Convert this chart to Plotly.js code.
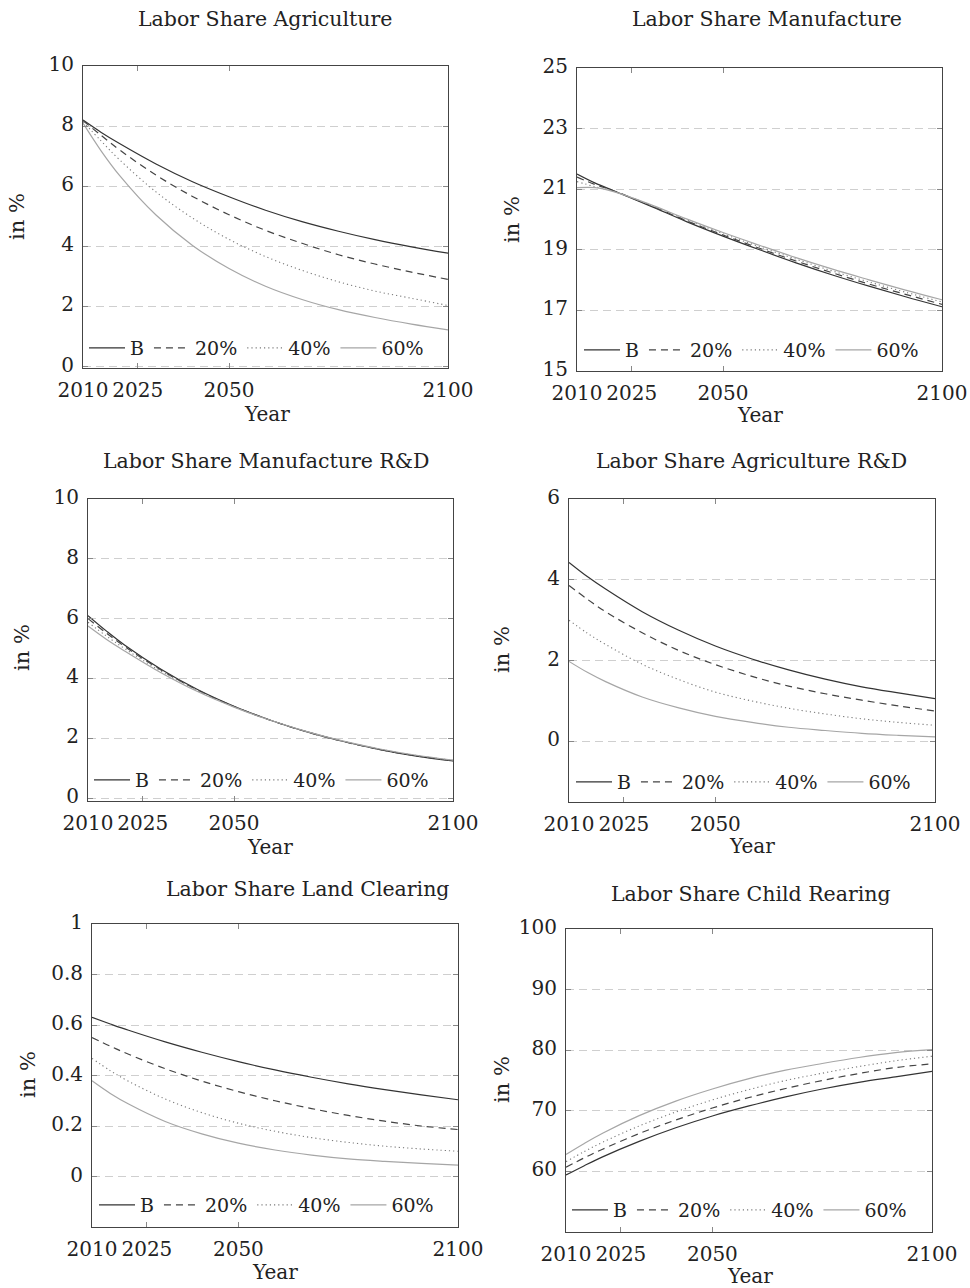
<!DOCTYPE html>
<html>
<head>
<meta charset="utf-8">
<script src="https://cdn.plot.ly/plotly-3.0.1.min.js"></script>
<style>html,body{margin:0;padding:0;background:#fff;}#chart{width:970px;height:1288px;}</style>
</head>
<body>
<div id="chart"></div>
<script>
// ---------- data ----------
const periods = [0, 5, 10, 20, 30, 40, 50, 60, 70, 80, 90, 100];
const yearTickVals = [0, 15, 40, 100];
const yearTickText = ['2010', '2025', '2050', '2100'];
const seriesNames = ['B', '20%', '40%', '60%'];

const panelTitles = ['Labor Share Agriculture', 'Labor Share Manufacture',
  'Labor Share Manufacture R&D', 'Labor Share Agriculture R&D',
  'Labor Share Land Clearing', 'Labor Share Child Rearing'];

// Labor Share Agriculture
const agriB   = [8.2, 7.79, 7.42, 6.74, 6.15, 5.65, 5.2, 4.82, 4.5, 4.22, 3.98, 3.77];
const agri20  = [8.18, 7.69, 7.21, 6.37, 5.66, 5.05, 4.53, 4.1, 3.72, 3.41, 3.14, 2.9];
const agri40  = [8.15, 7.5, 6.88, 5.81, 4.94, 4.23, 3.66, 3.2, 2.82, 2.51, 2.27, 2.03];
const agri60  = [8.1, 7.17, 6.36, 5.04, 4.03, 3.26, 2.67, 2.23, 1.89, 1.63, 1.41, 1.22];
// Labor Share Manufacture
const manuB   = [21.5, 21.2, 20.95, 20.45, 19.93, 19.45, 19.0, 18.57, 18.17, 17.8, 17.45, 17.12];
const manu20  = [21.4, 21.15, 20.95, 20.47, 19.96, 19.49, 19.05, 18.63, 18.24, 17.87, 17.53, 17.2];
const manu40  = [21.25, 21.08, 20.93, 20.48, 19.99, 19.53, 19.1, 18.69, 18.3, 17.94, 17.6, 17.28];
const manu60  = [21.05, 21.05, 20.92, 20.5, 20.02, 19.57, 19.15, 18.74, 18.36, 18.01, 17.67, 17.35];
// Labor Share Manufacture R&D
const manuRdB  = [6.1, 5.59, 5.12, 4.31, 3.63, 3.07, 2.6, 2.21, 1.89, 1.62, 1.4, 1.24];
const manuRd20 = [6.0, 5.52, 5.07, 4.28, 3.61, 3.06, 2.6, 2.21, 1.89, 1.62, 1.41, 1.25];
const manuRd40 = [5.88, 5.42, 5.0, 4.24, 3.59, 3.05, 2.6, 2.22, 1.9, 1.63, 1.42, 1.26];
const manuRd60 = [5.75, 5.31, 4.92, 4.19, 3.56, 3.04, 2.6, 2.22, 1.9, 1.64, 1.43, 1.27];
// Labor Share Agriculture R&D
const agriRdB  = [4.43, 4.08, 3.77, 3.21, 2.75, 2.36, 2.04, 1.77, 1.54, 1.35, 1.2, 1.06];
const agriRd20 = [3.86, 3.52, 3.21, 2.69, 2.25, 1.9, 1.61, 1.37, 1.18, 1.02, 0.88, 0.75];
const agriRd40 = [3.0, 2.68, 2.4, 1.91, 1.53, 1.22, 1.0, 0.82, 0.68, 0.56, 0.47, 0.4];
const agriRd60 = [1.98, 1.71, 1.48, 1.1, 0.83, 0.62, 0.47, 0.35, 0.27, 0.2, 0.15, 0.11];
// Labor Share Land Clearing
const landB   = [0.63, 0.604, 0.579, 0.533, 0.492, 0.455, 0.422, 0.393, 0.367, 0.344, 0.323, 0.304];
const land20  = [0.55, 0.516, 0.484, 0.427, 0.378, 0.336, 0.3, 0.269, 0.242, 0.219, 0.2, 0.186];
const land40  = [0.468, 0.419, 0.377, 0.307, 0.253, 0.211, 0.179, 0.154, 0.135, 0.12, 0.109, 0.1];
const land60  = [0.379, 0.329, 0.287, 0.218, 0.169, 0.132, 0.105, 0.085, 0.07, 0.06, 0.052, 0.045];
// Labor Share Child Rearing
const childB  = [59.4, 60.94, 62.4, 64.95, 67.2, 69.15, 70.8, 72.3, 73.6, 74.7, 75.6, 76.5];
const child20 = [60.7, 62.24, 63.66, 66.25, 68.48, 70.46, 72.19, 73.68, 75.0, 76.15, 77.13, 77.75];
const child40 = [61.6, 63.28, 64.8, 67.5, 69.8, 71.8, 73.5, 75.0, 76.2, 77.3, 78.25, 79.0];
const child60 = [62.8, 64.62, 66.3, 69.2, 71.6, 73.6, 75.3, 76.7, 77.8, 78.8, 79.6, 80.1];

// y-axis ranges and ticks
const yRanges = [[-0.05, 10], [15, 25], [-0.1, 10], [-1.5, 6], [-0.2, 1], [50, 100]];
const yTicks = [[0, 2, 4, 6, 8, 10], [15, 17, 19, 21, 23, 25], [0, 2, 4, 6, 8, 10],
  [0, 2, 4, 6], [0, 0.2, 0.4, 0.6, 0.8, 1], [60, 70, 80, 90, 100]];

const panelSeries = [
  [agriB, agri20, agri40, agri60],
  [manuB, manu20, manu40, manu60],
  [manuRdB, manuRd20, manuRd40, manuRd60],
  [agriRdB, agriRd20, agriRd40, agriRd60],
  [landB, land20, land40, land60],
  [childB, child20, child40, child60]
];

// ---------- layout geometry (pixels) ----------
const W = 970, H = 1288;
const boxes = [ // left, right, top, bottom of plot area
  [83, 448, 66, 368],
  [577, 942, 68, 371],
  [88, 453, 499, 801],
  [569, 935, 499, 802],
  [92, 458, 924, 1227],
  [566, 932, 929, 1232]
];
const titlePos = [[265, 19], [767, 19], [266, 461], [751, 461], [308, 889], [751, 894]];
const yTitlePos = [[17, 217], [512, 220], [22, 648], [502, 650], [28, 1075], [502, 1080]];
const xTitlePos = [[267, 414], [760, 415], [270, 847], [752, 846], [275, 1272], [750, 1276]];
const legendPos = [[84, 348], [579, 350], [89, 780], [571, 782], [94, 1205], [567, 1210]];

const lineStyles = [
  {color: '#333333', width: 1.2, dash: 'solid'},
  {color: '#444444', width: 1.2, dash: '7px,5px'},
  {color: '#7a7a7a', width: 1.1, dash: '1.2px,3px'},
  {color: '#a6a6a6', width: 1.2, dash: 'solid'}
];

const FONT = 'DejaVu Serif, Liberation Serif, serif';
const traces = [];
const layout = {
  width: W, height: H,
  margin: {l: 0, r: 0, t: 0, b: 0},
  paper_bgcolor: '#fff', plot_bgcolor: '#fff',
  font: {family: FONT, color: '#222', size: 20},
  annotations: [],
  showlegend: true
};

boxes.forEach((b, i) => {
  const n = i + 1;
  const xa = n === 1 ? 'x' : 'x' + n;
  const ya = n === 1 ? 'y' : 'y' + n;
  const legName = n === 1 ? 'legend' : 'legend' + n;
  panelSeries[i].forEach((vals, s) => {
    traces.push({
      type: 'scatter', mode: 'lines',
      x: periods, y: vals,
      xaxis: xa, yaxis: ya,
      name: seriesNames[s],
      legend: legName,
      line: Object.assign({shape: 'spline', smoothing: 1}, lineStyles[s]),
      hoverinfo: 'skip'
    });
  });
  const axCommon = {
    showline: true, linecolor: '#444', linewidth: 1,
    mirror: 'ticks', ticks: 'inside', ticklen: 5, tickcolor: '#888', tickwidth: 1,
    zeroline: false, fixedrange: true, tickangle: 0,
    tickfont: {family: FONT, size: 20, color: '#222'}
  };
  layout[n === 1 ? 'xaxis' : 'xaxis' + n] = Object.assign({}, axCommon, {
    domain: [b[0] / W, b[1] / W],
    anchor: ya, range: [0, 100],
    tickmode: 'array', tickvals: yearTickVals, ticktext: yearTickText,
    showgrid: false, ticklabelstandoff: 4
  });
  layout[n === 1 ? 'yaxis' : 'yaxis' + n] = Object.assign({}, axCommon, {
    domain: [1 - b[3] / H, 1 - b[2] / H],
    anchor: xa, range: yRanges[i],
    tickmode: 'array', tickvals: yTicks[i],
    showgrid: true, gridcolor: '#cfcfcf', gridwidth: 1, griddash: '8px,5px',
    ticklabelstandoff: 4, ticklabelshift: -2
  });
  layout[legName] = {
    orientation: 'h',
    x: legendPos[i][0] / W, y: 1 - legendPos[i][1] / H,
    xanchor: 'left', yanchor: 'middle',
    xref: 'paper', yref: 'paper',
    bgcolor: 'rgba(0,0,0,0)', borderwidth: 0,
    font: {family: FONT, size: 19, color: '#222'},
    itemwidth: 36, tracegroupgap: 0, itemclick: false, itemdoubleclick: false
  };
  layout.annotations.push({
    text: panelTitles[i], xref: 'paper', yref: 'paper',
    x: titlePos[i][0] / W, y: 1 - titlePos[i][1] / H,
    xanchor: 'center', yanchor: 'middle', showarrow: false,
    font: {family: FONT, size: 20.5, color: '#222'}
  });
  layout.annotations.push({
    text: 'in %', xref: 'paper', yref: 'paper',
    x: yTitlePos[i][0] / W, y: 1 - yTitlePos[i][1] / H,
    xanchor: 'center', yanchor: 'middle', showarrow: false, textangle: -90,
    font: {family: FONT, size: 21, color: '#222'}
  });
  layout.annotations.push({
    text: 'Year', xref: 'paper', yref: 'paper',
    x: xTitlePos[i][0] / W, y: 1 - xTitlePos[i][1] / H,
    xanchor: 'center', yanchor: 'middle', showarrow: false,
    font: {family: FONT, size: 20, color: '#222'}
  });
});

Plotly.newPlot('chart', traces, layout, {staticPlot: true, displayModeBar: false});
</script>
</body>
</html>
